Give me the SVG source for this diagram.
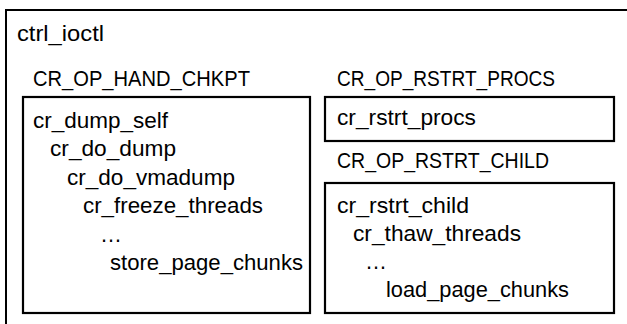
<svg xmlns="http://www.w3.org/2000/svg" width="627" height="324" viewBox="0 0 627 324">
<style>
.box{fill:none;stroke:#000;stroke-width:2.2}
.outer{fill:none;stroke:#000;stroke-width:2}
text{font-family:"Liberation Sans",Arial,sans-serif;font-size:22px;fill:#000}
</style>
<rect width="627" height="324" fill="#fff"/>
<g id="ctrl_ioctl">
<rect class="outer" x="6" y="10" width="640" height="330"/>
<text x="17" y="41" textLength="87" lengthAdjust="spacingAndGlyphs">ctrl_ioctl</text>
</g>
<g id="hand_chkpt">
<text x="33" y="86" textLength="217" lengthAdjust="spacingAndGlyphs">CR_OP_HAND_CHKPT</text>
<rect class="box" x="23" y="97" width="287" height="216"/>
<text x="33" y="128" textLength="135" lengthAdjust="spacingAndGlyphs">cr_dump_self</text>
<text x="50" y="156" textLength="126" lengthAdjust="spacingAndGlyphs">cr_do_dump</text>
<text x="67" y="185" textLength="168" lengthAdjust="spacingAndGlyphs">cr_do_vmadump</text>
<text x="83" y="213" textLength="180" lengthAdjust="spacingAndGlyphs">cr_freeze_threads</text>
<text x="100" y="242">…</text>
<text x="110" y="270" textLength="193" lengthAdjust="spacingAndGlyphs">store_page_chunks</text>
</g>
<g id="rstrt_procs">
<text x="337" y="86" textLength="218" lengthAdjust="spacingAndGlyphs">CR_OP_RSTRT_PROCS</text>
<rect class="box" x="325" y="97" width="289" height="44"/>
<text x="337" y="125" textLength="139" lengthAdjust="spacingAndGlyphs">cr_rstrt_procs</text>
</g>
<g id="rstrt_child">
<text x="337" y="168" textLength="212" lengthAdjust="spacingAndGlyphs">CR_OP_RSTRT_CHILD</text>
<rect class="box" x="325" y="183" width="289" height="130"/>
<text x="337" y="213" textLength="132" lengthAdjust="spacingAndGlyphs">cr_rstrt_child</text>
<text x="353" y="241" textLength="168" lengthAdjust="spacingAndGlyphs">cr_thaw_threads</text>
<text x="365" y="269">…</text>
<text x="386" y="297" textLength="183" lengthAdjust="spacingAndGlyphs">load_page_chunks</text>
</g>
<g id="connectors"/>
</svg>
